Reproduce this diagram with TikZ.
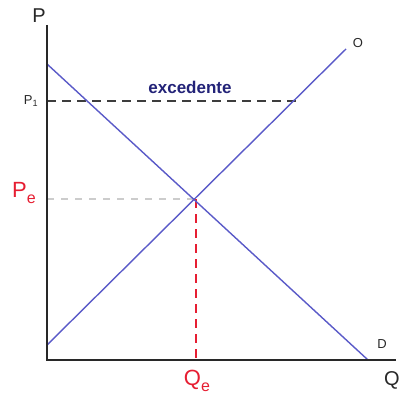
\documentclass[tikz,border=0pt]{standalone}
\usepackage{fontspec}
\setmainfont{Liberation Sans}
\definecolor{curveblue}{RGB}{90,90,200}
\definecolor{axisgray}{RGB}{40,40,40}
\definecolor{labred}{RGB}{230,30,50}
\definecolor{exblue}{RGB}{35,35,120}
\newcommand{\mysub}[1]{\raisebox{-0.3em}{\fontsize{16}{18}\selectfont #1}}
\tikzset{
  axisline/.style={draw=axisgray,line width=2.4pt},
  curve/.style={draw=curveblue,line width=1.4pt},
  ponedash/.style={draw=axisgray!90,line width=2.6pt,dash pattern=on 9pt off 6pt},
  pedash/.style={draw=black!20,line width=2pt,dash pattern=on 7pt off 7pt},
  qedash/.style={draw=labred,line width=2.6pt,dash pattern=on 9pt off 6pt},
  redlab/.style={text=labred,font=\fontsize{22}{24}\selectfont,inner sep=0pt},
  smalllab/.style={text=axisgray,font=\fontsize{13}{14}\selectfont,inner sep=0pt},
}
\begin{document}
\begin{tikzpicture}[x=1pt,y=-1pt]
\useasboundingbox (0,0) rectangle (401,403);
\coordinate (O) at (47,360);
\coordinate (Ptop) at (47,25);
\coordinate (Qend) at (396,360);
\coordinate (Dstart) at (47,64);
\coordinate (Dend) at (368,360);
\coordinate (Sstart) at (47,345);
\coordinate (Send) at (346,49);
\coordinate (E) at (196,199);
\coordinate (Pe) at (47,199);
\coordinate (Qe) at (196,360);
\coordinate (P1) at (47,101);
\coordinate (P1end) at (300,101);
% dashed guides
\draw[pedash] (Pe) -- (E);
\draw[qedash] (E) -- (Qe);
\draw[ponedash] (P1) -- (P1end);
% curves
\draw[curve] (Dstart) -- (Dend);
\draw[curve] (Sstart) -- (Send);
% axes
\draw[axisline] (Ptop) -- (O) -- (Qend);
% labels
\node[text=axisgray,font=\fontsize{20}{22}\selectfont,inner sep=0pt] (plab) at (39,16) {P};
\node[text=axisgray,font=\fontsize{20}{22}\selectfont,inner sep=0pt] (qlab) at (392,380) {Q};
\node[smalllab] (p1lab) at (31,101) {P\textsubscript{1}};
\node[redlab] (pelab) at (24,193) {P\mysub{e}};
\node[redlab] (qelab) at (197,381) {Q\mysub{e}};
\node[text=exblue,font=\bfseries\fontsize{17}{19}\selectfont,inner sep=0pt] (exlab) at (190,87) {excedente};
\node[smalllab] (olab) at (358,43) {O};
\node[smalllab] (dlab) at (382,344) {D};
\end{tikzpicture}
\end{document}
